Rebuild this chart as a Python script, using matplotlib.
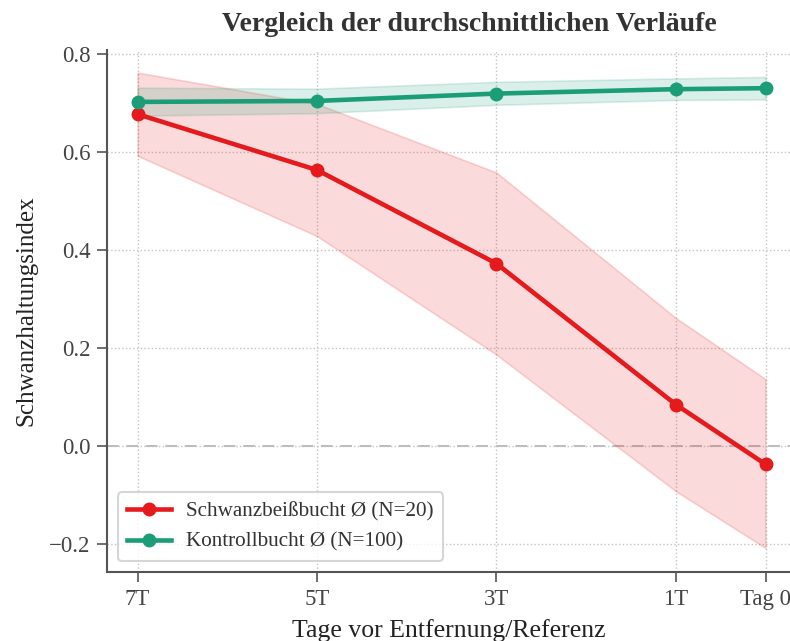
import matplotlib
matplotlib.use("Agg")
import matplotlib.pyplot as plt
import numpy as np

plt.rcParams['font.family'] = ['Liberation Serif', 'DejaVu Serif']

days = [-7, -5, -3, -1, 0]
tick_labels = ["7T", "5T", "3T", "1T", "Tag 0"]

bite_mean = [0.677, 0.563, 0.372, 0.084, -0.038]
bite_upper = [0.762, 0.698, 0.558, 0.261, 0.136]
bite_lower = [0.592, 0.428, 0.186, -0.093, -0.209]

ctrl_mean = [0.702, 0.704, 0.719, 0.728, 0.730]
ctrl_upper = [0.731, 0.729, 0.743, 0.750, 0.753]
ctrl_lower = [0.674, 0.679, 0.696, 0.706, 0.707]

red = "#e41a1c"
green = "#1b9e77"

fig = plt.figure(figsize=(7.9, 6.41), dpi=100)
ax = fig.add_axes([107/790, (641-572)/641, (790-107)/790, (572-50)/641])

ax.fill_between(days, bite_lower, bite_upper, color=red, alpha=0.16, linewidth=1.2)
ax.fill_between(days, ctrl_lower, ctrl_upper, color=green, alpha=0.16, linewidth=1.2)
ax.plot(days, bite_mean, color=red, lw=3.3, marker='o', ms=9, label="Schwanzbeißbucht Ø (N=20)")
ax.plot(days, ctrl_mean, color=green, lw=3.3, marker='o', ms=9, label="Kontrollbucht Ø (N=100)")
ax.axhline(0, color="#bbbbbb", ls=(0, (6, 4)), lw=1.4, zorder=0.5)

ax.set_xlim(-7.34, 0.273)
ax.set_ylim(-0.258, 0.808)
ax.set_xticks(days)
ax.set_xticklabels(tick_labels)
ax.set_yticks([-0.2, 0.0, 0.2, 0.4, 0.6, 0.8])
ax.set_yticklabels(["\u22120.2", "0.0", "0.2", "0.4", "0.6", "0.8"])
ax.grid(True, ls=':', color="#c4c4c4", lw=1.0)
ax.set_axisbelow(True)

for s in ['top', 'right']:
    ax.spines[s].set_visible(False)
for s in ['left', 'bottom']:
    ax.spines[s].set_color("#555555")
    ax.spines[s].set_linewidth(1.5)
ax.tick_params(axis='both', colors="#555555", labelsize=16.5, length=7, width=1.2,
               pad=5, labelcolor="#444444")

ax.set_xlabel("Tage vor Entfernung/Referenz", fontsize=18.5, color="#222222", labelpad=7)
ax.set_ylabel("Schwanzhaltungsindex", fontsize=18, color="#222222", labelpad=8)
ax.set_title("Vergleich der durchschnittlichen Verläufe", fontsize=20, fontweight='bold',
             color="#333333", pad=14, x=(469-107)/683)

leg = ax.legend(loc='lower left', fontsize=15.2, frameon=True, handlelength=2.1,
                handletextpad=0.7, borderpad=0.45)
leg.get_frame().set_edgecolor("#cccccc")
leg.get_frame().set_linewidth(1.5)
for t in leg.get_texts():
    t.set_color("#333333")

fig.savefig("out.png", dpi=100)
